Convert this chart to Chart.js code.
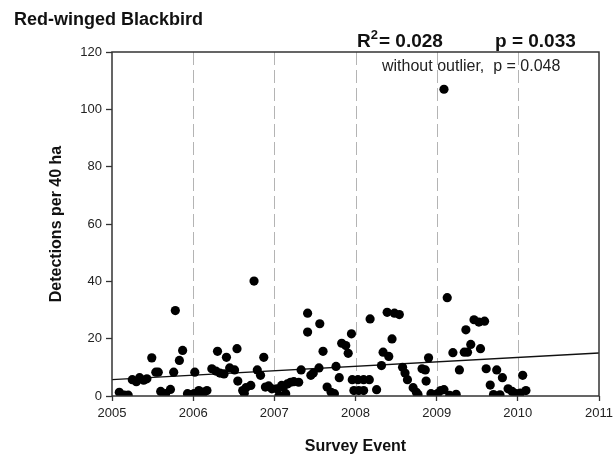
<!DOCTYPE html>
<html><head><meta charset="utf-8">
<script src="https://cdn.jsdelivr.net/npm/chart.js@4"></script>
<style>html,body{margin:0;padding:0;background:#fff}#wrap{width:614px;height:456px;position:relative}</style>
</head><body><div id="wrap"><canvas id="c" width="614" height="456"></canvas></div>
<script>
const chartTitle = "Red-winged Blackbird";
const xLabel = "Survey Event";
const yLabel = "Detections per 40 ha";
const xTicks = [2005, 2006, 2007, 2008, 2009, 2010, 2011];
const yTicks = [0, 20, 40, 60, 80, 100, 120];
const dashedYears = [2006, 2007, 2008, 2009, 2010];
const surveyTime = [
  2005.09,2005.15,2005.20,2005.25,2005.30,2005.34,2005.39,2005.43,2005.49,2005.54,2005.57,
  2005.60,2005.66,2005.72,2005.76,2005.78,2005.83,2005.87,2005.93,2005.96,
  2006.01,2006.02,2006.07,2006.11,2006.13,2006.17,2006.23,2006.28,2006.30,2006.33,2006.38,2006.41,
  2006.45,2006.51,2006.54,2006.55,2006.61,2006.63,2006.65,2006.71,2006.75,2006.79,2006.83,2006.87,
  2006.89,2006.93,2006.97,
  2007.03,2007.06,2007.09,2007.11,2007.14,2007.16,2007.20,2007.24,2007.30,2007.33,2007.41,2007.41,
  2007.45,2007.48,2007.55,2007.56,2007.60,2007.65,2007.70,2007.74,2007.76,2007.80,2007.83,2007.88,
  2007.91,2007.95,
  2007.96,2008.03,2008.10,2008.17,2007.98,2008.04,2008.10,2008.18,2008.26,2008.32,2008.34,2008.41,
  2008.39,2008.48,2008.54,2008.45,2008.58,2008.61,2008.64,2008.71,2008.75,2008.77,2008.82,2008.86,
  2008.87,2008.90,2008.93,2008.99,
  2009.01,2009.05,2009.09,2009.09,2009.13,2009.16,2009.20,2009.24,2009.28,2009.34,2009.38,2009.36,
  2009.42,2009.46,2009.52,2009.54,2009.59,2009.61,2009.66,2009.70,2009.74,2009.78,2009.81,2009.88,
  2009.93,2009.98,2010.03,2010.06,2010.10
];
const detections = [
  1.3,0.3,0.3,5.7,5.0,6.4,5.5,6.0,13.3,8.3,8.3,
  1.6,0.8,2.3,8.3,29.8,12.4,15.9,0.8,0.5,
  0.8,8.3,1.9,0.5,1.3,1.9,9.5,8.7,15.6,8.0,7.7,13.5,
  9.8,9.1,16.5,5.2,1.9,1.0,2.9,3.7,40.1,9.1,7.2,13.5,
  3.1,3.5,2.5,
  2.5,0.2,3.7,3.1,0.8,4.2,4.8,5.0,4.8,9.1,28.9,22.3,
  7.2,8.0,9.8,25.2,15.6,3.1,1.3,0.8,10.3,6.4,18.4,17.6,
  14.9,21.7,
  5.7,5.7,5.7,5.7,1.9,1.9,1.9,26.9,2.2,10.6,15.3,13.8,
  29.2,28.9,28.4,19.9,10.0,8.0,5.7,2.9,1.3,0.5,9.5,9.1,
  5.2,13.3,0.8,0.5,
  0.8,1.9,107,2.2,34.3,0.2,15.1,0.6,9.1,15.3,15.3,23.1,
  18.0,26.6,25.8,16.5,26.1,9.5,3.8,0.5,9.1,0.4,6.4,2.5,
  1.6,0.8,1.0,7.2,1.9
];
const trendX = [2005, 2011];
const trendY = [5.7, 15.0];
const statR2 = "0.028";
const statP = "0.033";
const statPNoOutlier = "0.048";

const FONT = "Arial, 'Liberation Sans', sans-serif";

const overlay = {
  id: 'overlay',
  beforeDatasetsDraw(chart) {
    const {ctx, chartArea: a, scales: {x}} = chart;
    ctx.save();
    ctx.strokeStyle = '#b4b4b4';
    ctx.lineWidth = 1;
    ctx.setLineDash([13, 5]);
    dashedYears.forEach(yr => {
      const px = Math.round(x.getPixelForValue(yr)) + 0.5;
      ctx.beginPath(); ctx.moveTo(px, a.top); ctx.lineTo(px, a.bottom); ctx.stroke();
    });
    ctx.restore();
  },
  afterDraw(chart) {
    const {ctx, chartArea: a} = chart;
    ctx.save();
    ctx.strokeStyle = '#333';
    ctx.lineWidth = 1.5;
    ctx.strokeRect(a.left, a.top, a.right - a.left, a.bottom - a.top);
    ctx.fillStyle = '#111';
    ctx.textBaseline = 'alphabetic';
    ctx.textAlign = 'left';
    ctx.font = "bold 18px " + FONT;
    ctx.fillText(chartTitle, 14, 25);
    ctx.font = "bold 19px " + FONT;
    let rx = 357, by = 47;
    ctx.fillText("R", rx, by);
    let w = ctx.measureText("R").width;
    ctx.font = "bold 13px " + FONT;
    ctx.fillText("2", rx + w, by - 8);
    let w2 = ctx.measureText("2").width;
    ctx.font = "bold 19px " + FONT;
    ctx.fillText("= " + statR2, rx + w + w2 + 1, by);
    ctx.fillText("p = " + statP, 495, by);
    ctx.font = "16px " + FONT;
    ctx.fillStyle = '#222';
    ctx.fillText("without outlier,  p = " + statPNoOutlier, 382, 71);
    ctx.restore();
  }
};

new Chart(document.getElementById('c'), {
  type: 'scatter',
  data: {
    datasets: [
      {
        type: 'line',
        data: trendX.map((v, i) => ({x: v, y: trendY[i]})),
        borderColor: '#111', borderWidth: 1.3, pointRadius: 0, fill: false, order: 2
      },
      {
        data: surveyTime.map((v, i) => ({x: v, y: detections[i]})),
        backgroundColor: '#000', borderColor: '#000', borderWidth: 0,
        pointRadius: 4.6, pointHoverRadius: 4.6, order: 1
      }
    ]
  },
  options: {
    responsive: false, animation: false, devicePixelRatio: 1,
    layout: {padding: {top: 52, right: 15, left: 0, bottom: 0}},
    plugins: {legend: {display: false}, tooltip: {enabled: false}},
    scales: {
      x: {
        type: 'linear', min: 2005, max: 2011,
        afterBuildTicks: s => { s.ticks = xTicks.map(v => ({value: v})); },
        afterFit: s => { s.height = 60; s.paddingLeft = 0; s.paddingRight = 0; },
        ticks: {callback: v => String(v), color: '#222', font: {family: FONT, size: 13}, padding: 5, maxRotation: 0},
        grid: {drawOnChartArea: false, tickLength: 5, tickColor: '#333', tickWidth: 1.3},
        border: {display: false},
        title: {display: true, text: xLabel, color: '#111', font: {family: FONT, size: 16, weight: 'bold'}, padding: {top: 3, bottom: 0}}
      },
      y: {
        min: 0, max: 120,
        afterBuildTicks: s => { s.ticks = yTicks.map(v => ({value: v})); },
        afterFit: s => { s.width = 112; s.paddingTop = 0; s.paddingBottom = 0; },
        ticks: {color: '#222', font: {family: FONT, size: 13}, padding: 4},
        grid: {drawOnChartArea: false, tickLength: 6, tickColor: '#333', tickWidth: 1.3},
        border: {display: false},
        title: {display: true, text: yLabel, color: '#111', font: {family: FONT, size: 16, weight: 'bold'}, padding: {top: 47, bottom: 0}}
      }
    }
  },
  plugins: [overlay]
});
</script></body></html>
